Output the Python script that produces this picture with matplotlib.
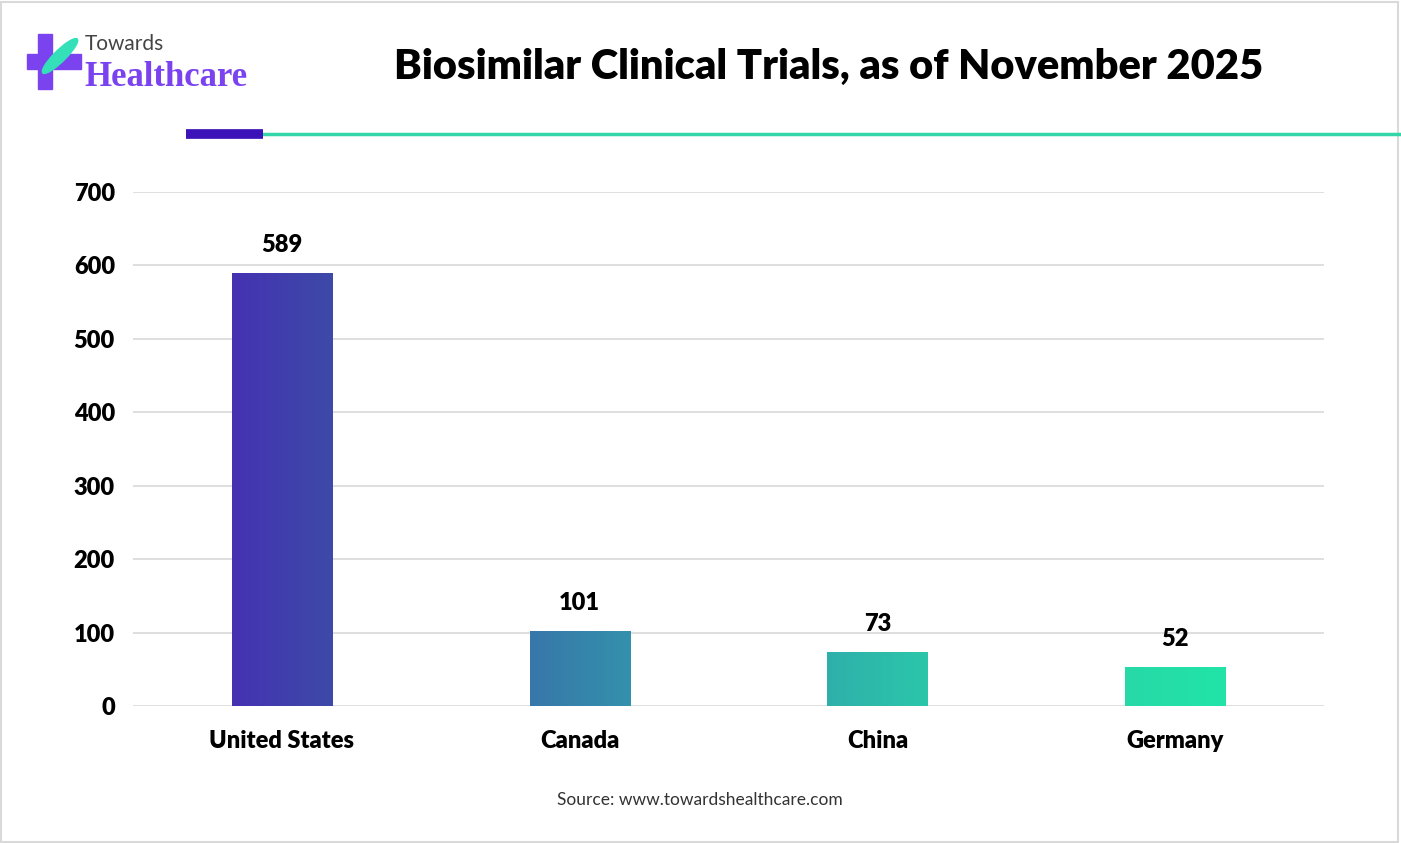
import matplotlib.pyplot as plt
import matplotlib.patches as mpatches
import numpy as np
from matplotlib.colors import LinearSegmentedColormap

# Data
countries = ['United States', 'Canada', 'China', 'Germany']
trials = [589, 101, 73, 52]
y_ticks = [0, 100, 200, 300, 400, 500, 600, 700]
# left/right colours of each gradient bar
bar_colors = [('#4532b2', '#3d4aa8'), ('#3877aa', '#3391ac'),
              ('#2fb0aa', '#2bc6aa'), ('#27d9a8', '#21e4a7')]

plt.rcParams['font.family'] = ['Lato', 'DejaVu Sans']

fig = plt.figure(figsize=(14.01, 8.43), dpi=100)
W, H = 1401, 843

def fx(px):
    return px / W

def fy(py):
    return 1 - py / H

# outer border
fig.patches.append(mpatches.Rectangle((0.001, 0.001), 0.997, 0.997, transform=fig.transFigure,
                                      fill=False, edgecolor='#d9d9d9', lw=1.5))

# header lines
fig.add_artist(plt.Line2D([fx(263), fx(1401)], [fy(134), fy(134)], color='#33d6a8', lw=2.5))
fig.add_artist(plt.Line2D([fx(186), fx(263)], [fy(134), fy(134)], color='#3b13b8', lw=7,
                          solid_capstyle='butt'))

# logo
fig.patches.append(mpatches.Rectangle((fx(38), fy(89)), 14 / W, 55 / H, transform=fig.transFigure,
                                      color='#7b43f0'))
fig.patches.append(mpatches.Rectangle((fx(27), fy(69)), 54 / W, 15 / H, transform=fig.transFigure,
                                      color='#7b43f0'))
fig.patches.append(mpatches.Ellipse((fx(60), fy(56)), 14 / W, 40 / H, angle=-30,
                                    transform=fig.transFigure, color='#33e0b8'))
fig.text(fx(85), fy(44), 'Towards', fontsize=15, color='#444444', va='center', ha='left')
fig.text(fx(84), fy(77), 'Healthcare', fontsize=25, color='#7b43f0', va='center', ha='left',
         fontweight='bold', family=['Liberation Serif'])

# title
fig.text(fx(829), fy(67), 'Biosimilar Clinical Trials, as of November 2025', fontsize=30,
         fontweight='heavy', ha='center', va='center', color='black')

# source
fig.text(fx(700), fy(800), 'Source: www.towardshealthcare.com', fontsize=12.5, ha='center',
         va='center', color='#333333')

ax = fig.add_axes([fx(133), fy(706), (1324 - 133) / W, (706 - 192) / H])
x = np.arange(len(countries))
width = 0.336
bars = ax.bar(x, trials, width=width, color='none', zorder=3)
for b, (c0, c1) in zip(bars, bar_colors):
    cmap = LinearSegmentedColormap.from_list('g', [c0, c1])
    grad = np.linspace(0, 1, 64).reshape(1, -1)
    ax.imshow(grad, cmap=cmap, aspect='auto', zorder=3,
              extent=[b.get_x(), b.get_x() + b.get_width(), 0, b.get_height()])

for xi, v in zip(x, trials):
    ax.text(xi, v + 24, str(v), ha='center', va='bottom', fontsize=17,
            fontweight='heavy', color='black')

ax.set_xlim(-0.5, len(countries) - 0.5)
ax.set_ylim(0, 700)
ax.set_yticks(y_ticks)
ax.set_xticks(x)
ax.set_xticklabels(countries, fontsize=17, fontweight='heavy')
ax.set_yticklabels([str(t) for t in y_ticks], fontsize=17, fontweight='heavy')
ax.tick_params(length=0)
ax.tick_params(axis='y', pad=13)
ax.tick_params(axis='x', pad=17)
ax.grid(axis='y', color='#d9d9d9', lw=1.2, zorder=0)
ax.set_axisbelow(True)
for s in ax.spines.values():
    s.set_visible(False)

fig.savefig('out.png', dpi=100)
